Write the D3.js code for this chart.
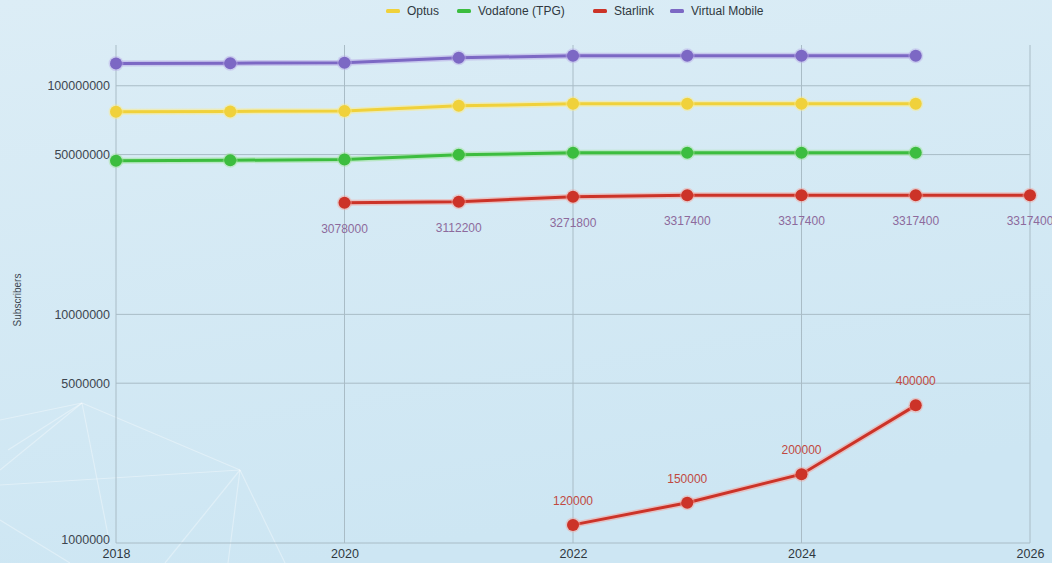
<!DOCTYPE html>
<html><head><meta charset="utf-8">
<script src="https://cdn.jsdelivr.net/npm/d3@7/dist/d3.min.js"></script>
<style>html,body{margin:0;padding:0;}body{width:1052px;height:563px;overflow:hidden;}</style>
</head><body><svg id="c" width="1052" height="563"></svg>
<script>
const years = [2018, 2019, 2020, 2021, 2022, 2023, 2024, 2025];
const optus = [77000000, 77200000, 77600000, 81700000, 83400000, 83400000, 83400000, 83400000];
const vodafone = [47000000, 47200000, 47600000, 49900000, 50900000, 50900000, 50900000, 50900000];
const virtualMobile = [125000000, 125500000, 126200000, 132600000, 135300000, 135300000, 135300000, 135300000];
const starlinkYearsA = [2020, 2021, 2022, 2023, 2024, 2025, 2026];
const starlinkValuesA = [30780000, 31122000, 32718000, 33174000, 33174000, 33174000, 33174000];
const starlinkLabelsA = ["3078000", "3112200", "3271800", "3317400", "3317400", "3317400", "3317400"];
const starlinkYearsB = [2022, 2023, 2024, 2025];
const starlinkValuesB = [1200000, 1500000, 2000000, 4000000];
const starlinkLabelsB = ["120000", "150000", "200000", "400000"];
const yTicks = [1000000, 5000000, 10000000, 50000000, 100000000];
const xTicks = [2018, 2020, 2022, 2024, 2026];
const legendNames = ["Optus", "Vodafone (TPG)", "Starlink", "Virtual Mobile"];

const svg = d3.select("#c");
const W = 1052, H = 563;
const defs = svg.append("defs");
const bg = defs.append("linearGradient").attr("id","bg").attr("x1",0).attr("y1",0).attr("x2",0.3).attr("y2",1);
bg.append("stop").attr("offset","0%").attr("stop-color","#dcedf6");
bg.append("stop").attr("offset","100%").attr("stop-color","#cde6f3");
svg.append("rect").attr("width",W).attr("height",H).attr("fill","url(#bg)");

// faint decorative network lines
const deco = [[82,403,0,420],[82,403,8,450],[82,403,240,470],[82,403,110,545],[0,470,82,403],
  [240,470,0,485],[240,470,165,563],[240,470,228,563],[240,470,285,563],[0,520,70,563]];
svg.append("g").selectAll("line").data(deco).join("line")
  .attr("x1",d=>d[0]).attr("y1",d=>d[1]).attr("x2",d=>d[2]).attr("y2",d=>d[3])
  .attr("stroke","#ffffff").attr("stroke-opacity",0.35).attr("stroke-width",1.2);

const x = d3.scaleLinear().domain([2018, 2026]).range([116, 1030]);
const y = d3.scaleLog().domain([1000000, 150000000]).range([543, 45.5]);

// grid
const g = svg.append("g");
g.selectAll(".hg").data(yTicks).join("line")
  .attr("x1",116).attr("x2",1030).attr("y1",d=>y(d)).attr("y2",d=>y(d))
  .attr("stroke","#a9bcc6").attr("stroke-width",1);
g.selectAll(".vg").data(xTicks).join("line")
  .attr("x1",d=>x(d)).attr("x2",d=>x(d)).attr("y1",45).attr("y2",543)
  .attr("stroke","#a9bcc6").attr("stroke-width",1);

// axes
const yAxis = d3.axisLeft(y).tickValues(yTicks).tickFormat(d=>String(d)).tickSize(0).tickPadding(6);
const ya = svg.append("g").attr("transform","translate(116,0)").call(yAxis);
ya.select(".domain").remove();
ya.selectAll("text").attr("font-family","Liberation Sans, Arial, sans-serif").attr("font-size",12.5).attr("fill","#3d4650")
  .attr("dy",(d)=> d===1000000 ? "0.05em" : "0.32em");

const xAxis = d3.axisBottom(x).tickValues(xTicks).tickFormat(d=>String(d)).tickSize(0).tickPadding(7);
const xa = svg.append("g").attr("transform","translate(0,543)").call(xAxis);
xa.select(".domain").remove();
xa.selectAll("text").attr("font-family","Liberation Sans, Arial, sans-serif").attr("font-size",12.5).attr("fill","#2f3840").attr("dy","0.62em");

svg.append("text").attr("transform","translate(21,300) rotate(-90)").attr("text-anchor","middle")
  .attr("font-family","Liberation Sans, Arial, sans-serif").attr("font-size",10).attr("fill","#3d4650").text("Subscribers");

const colors = {optus:"#f0d13b", vodafone:"#3cbd3f", starlink:"#cc3328", virt:"#7c68c4"};
const halo = {optus:"#fbeb8a", vodafone:"#9fe39a", starlink:"#f5a29a", virt:"#b8aae6"};

function drawSeries(xs, vs, key){
  const data = xs.map((yr,i)=>({yr, v:vs[i]}));
  const line = d3.line().x(d=>x(d.yr)).y(d=>y(d.v));
  const sg = svg.append("g");
  sg.append("path").datum(data).attr("d",line).attr("fill","none").attr("stroke",halo[key]).attr("stroke-width",6).attr("stroke-opacity",0.55);
  sg.append("path").datum(data).attr("d",line).attr("fill","none").attr("stroke",colors[key]).attr("stroke-width",3);
  sg.selectAll("circle.h").data(data).join("circle").attr("cx",d=>x(d.yr)).attr("cy",d=>y(d.v)).attr("r",7.5).attr("fill",halo[key]).attr("opacity",0.45);
  sg.selectAll("circle.p").data(data).join("circle").attr("cx",d=>x(d.yr)).attr("cy",d=>y(d.v)).attr("r",6).attr("fill",colors[key]);
  return data;
}
drawSeries(years, virtualMobile, "virt");
drawSeries(years, optus, "optus");
drawSeries(years, vodafone, "vodafone");
const sa = drawSeries(starlinkYearsA, starlinkValuesA, "starlink");
const sb = drawSeries(starlinkYearsB, starlinkValuesB, "starlink");

svg.append("g").selectAll("text").data(sa).join("text")
  .attr("x",d=>x(d.yr)).attr("y",d=>y(d.v)+30)
  .attr("text-anchor","middle").attr("font-family","Liberation Sans, Arial, sans-serif").attr("font-size",12)
  .attr("fill","#8d6a9c").text((d,i)=>starlinkLabelsA[i]);
svg.append("g").selectAll("text").data(sb).join("text")
  .attr("x",d=>x(d.yr)).attr("y",d=>y(d.v)-20)
  .attr("text-anchor","middle").attr("font-family","Liberation Sans, Arial, sans-serif").attr("font-size",12)
  .attr("fill","#c0493f").text((d,i)=>starlinkLabelsB[i]);

// legend
const legColors = [colors.optus, colors.vodafone, colors.starlink, colors.virt];
const legX = [386, 457, 593, 670];
const lg = svg.append("g");
legendNames.forEach((n,i)=>{
  lg.append("rect").attr("x",legX[i]).attr("y",9).attr("width",14).attr("height",4).attr("rx",1.5).attr("fill",legColors[i]);
  lg.append("text").attr("x",legX[i]+21).attr("y",15).attr("font-family","Liberation Sans, Arial, sans-serif")
    .attr("font-size",12).attr("fill","#2f3840").text(n);
});
</script></body></html>
